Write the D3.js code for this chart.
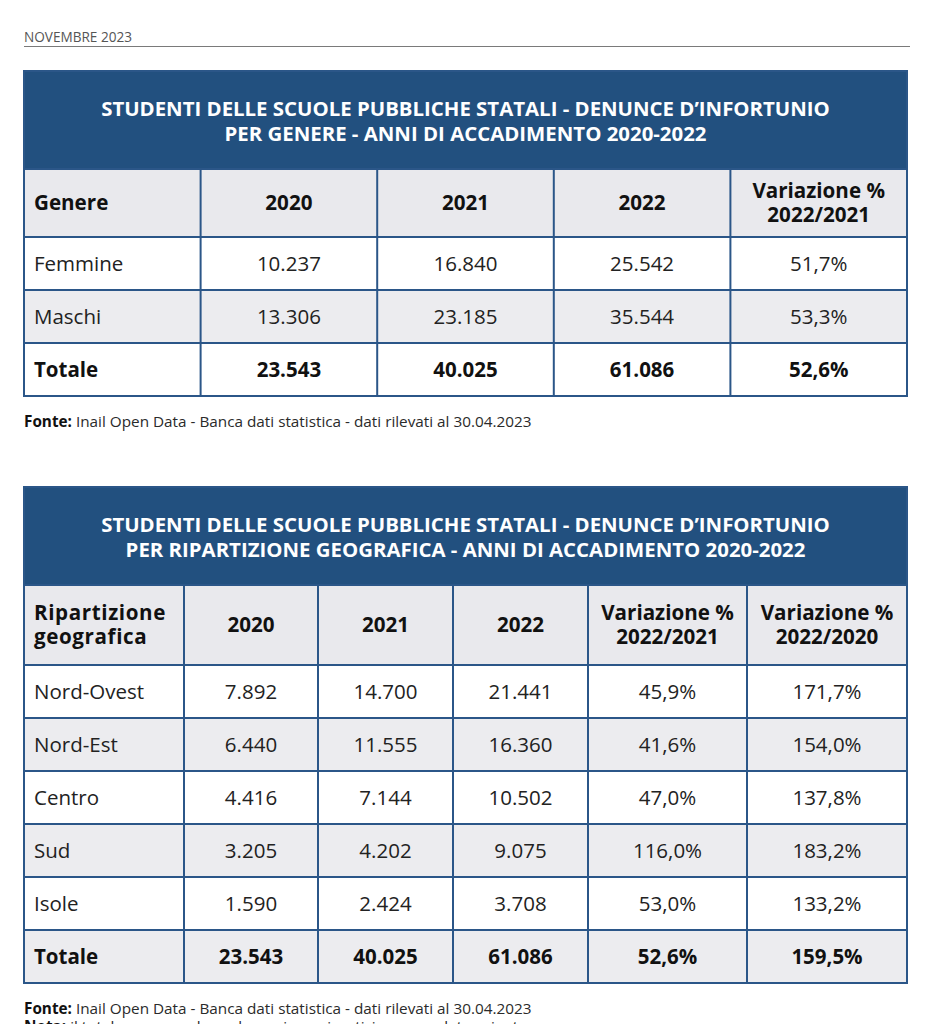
<!DOCTYPE html>
<html><head><meta charset="utf-8">
<script src="https://cdn.jsdelivr.net/npm/d3@7"></script>
<style>
html,body{margin:0;padding:0;background:#fff;}
svg{display:block;font-family:"Open Sans",sans-serif;}
</style></head>
<body><svg id="c" width="940" height="1024"></svg>
<script>
// ---------- DATA ----------
const dateLabel = "NOVEMBRE 2023";

const t1Title = ["STUDENTI DELLE SCUOLE PUBBLICHE STATALI - DENUNCE D\u2019INFORTUNIO",
                 "PER GENERE - ANNI DI ACCADIMENTO 2020-2022"];
const t1Headers = [["Genere"], ["2020"], ["2021"], ["2022"], ["Variazione %", "2022/2021"]];
const t1Categories = ["Femmine", "Maschi", "Totale"];
const t1Values2020 = ["10.237", "13.306", "23.543"];
const t1Values2021 = ["16.840", "23.185", "40.025"];
const t1Values2022 = ["25.542", "35.544", "61.086"];
const t1Var2221 = ["51,7%", "53,3%", "52,6%"];

const t2Title = ["STUDENTI DELLE SCUOLE PUBBLICHE STATALI - DENUNCE D\u2019INFORTUNIO",
                 "PER RIPARTIZIONE GEOGRAFICA - ANNI DI ACCADIMENTO 2020-2022"];
const t2Headers = [["Ripartizione", "geografica"], ["2020"], ["2021"], ["2022"],
                   ["Variazione %", "2022/2021"], ["Variazione %", "2022/2020"]];
const t2Categories = ["Nord-Ovest", "Nord-Est", "Centro", "Sud", "Isole", "Totale"];
const t2Values2020 = ["7.892", "6.440", "4.416", "3.205", "1.590", "23.543"];
const t2Values2021 = ["14.700", "11.555", "7.144", "4.202", "2.424", "40.025"];
const t2Values2022 = ["21.441", "16.360", "10.502", "9.075", "3.708", "61.086"];
const t2Var2221 = ["45,9%", "41,6%", "47,0%", "116,0%", "53,0%", "52,6%"];
const t2Var2220 = ["171,7%", "154,0%", "137,8%", "183,2%", "133,2%", "159,5%"];

const sourceBold = "Fonte:";
const sourceText = " Inail Open Data - Banca dati statistica - dati rilevati al 30.04.2023";
const noteBold = "Nota:";
const noteText = " il totale comprende anche casi con ripartizione non determinata";

// ---------- STYLE ----------
const BAND = "#22507f", BORDER = "#2b5688", HEAD_BG = "#e9e9ed", ALT_BG = "#ececef";
const svg = d3.select("#c");

// header date + rule
svg.append("text").attr("x", 24).attr("y", 42).attr("font-size", 13.6)
  .attr("fill", "#555").text(dateLabel);
svg.append("line").attr("x1", 24).attr("x2", 910).attr("y1", 46.5).attr("y2", 46.5)
  .attr("stroke", "#7a7a7a").attr("stroke-width", 1);

function drawTable(cfg) {
  const g = svg.append("g");
  const L = 24, R = 907;
  const cum = [0];
  cfg.weights.forEach(w => cum.push(cum[cum.length - 1] + w));
  const x = d3.scaleLinear().domain([0, cum[cum.length - 1]]).range([L, R]);
  const edges = cum.map(c => x(c));

  const bandTop = cfg.top, bandBot = cfg.top + cfg.bandH;
  const headBot = bandBot + cfg.headH;
  const nRows = cfg.rows[0].length;
  const y = d3.scaleBand().domain(d3.range(nRows))
    .range([headBot, headBot + cfg.rowH * nRows]).padding(0);

  // band
  g.append("rect").attr("x", L).attr("y", bandTop).attr("width", R - L)
    .attr("height", cfg.bandH + 1).attr("fill", BAND);
  g.selectAll("text.title").data(cfg.title).join("text").attr("class", "title")
    .attr("x", (L + R) / 2).attr("y", (d, i) => bandTop + 45 + i * 25)
    .attr("text-anchor", "middle").attr("fill", "#fff").attr("font-weight", 700)
    .attr("font-size", cfg.titleSize).text(d => d);

  // header row
  g.append("rect").attr("x", L).attr("y", bandBot).attr("width", R - L)
    .attr("height", cfg.headH).attr("fill", HEAD_BG);
  // rows
  g.selectAll("rect.row").data(d3.range(nRows)).join("rect").attr("class", "row")
    .attr("x", L).attr("y", i => y(i)).attr("width", R - L).attr("height", y.bandwidth())
    .attr("fill", i => cfg.shade(i) ? ALT_BG : "#fff");

  // header texts
  cfg.headers.forEach((lines, ci) => {
    const first = ci === 0;
    const cx = first ? edges[0] + 10 : (edges[ci] + edges[ci + 1]) / 2;
    const cy = (bandBot + headBot) / 2;
    const lh = 24;
    lines.forEach((t, li) => {
      g.append("text").attr("x", cx)
        .attr("y", cy + (li - (lines.length - 1) / 2) * lh + 7)
        .attr("text-anchor", first ? "start" : "middle")
        .attr("font-weight", 700).attr("font-size", cfg.headSize).attr("fill", "#111")
        .attr("letter-spacing", first && lines.length > 1 ? 0.6 : 0)
        .text(t);
    });
  });

  // body texts
  cfg.rows.forEach((col, ci) => {
    const first = ci === 0;
    g.selectAll("text.c" + ci).data(col).join("text").attr("class", "c" + ci)
      .attr("x", first ? edges[0] + 10 : (edges[ci] + edges[ci + 1]) / 2)
      .attr("y", (d, i) => y(i) + y.bandwidth() / 2 + 7.5)
      .attr("text-anchor", first ? "start" : "middle")
      .attr("font-size", cfg.fontSize)
      .attr("font-weight", (d, i) => i === nRows - 1 ? 700 : 400)
      .attr("fill", (d, i) => i === nRows - 1 ? "#111" : "#222")
      .text(d => d);
  });

  // grid lines
  const bottom = headBot + cfg.rowH * nRows;
  const hs = [bandBot, headBot].concat(d3.range(1, nRows).map(i => y(i)));
  g.selectAll("line.h").data(hs).join("line").attr("class", "h")
    .attr("x1", L).attr("x2", R).attr("y1", d => d).attr("y2", d => d)
    .attr("stroke", BORDER).attr("stroke-width", 2);
  g.selectAll("line.v").data(edges.slice(1, -1)).join("line").attr("class", "v")
    .attr("x1", d => d).attr("x2", d => d).attr("y1", bandBot).attr("y2", bottom)
    .attr("stroke", BORDER).attr("stroke-width", 2);
  g.append("rect").attr("x", L).attr("y", bandTop).attr("width", R - L)
    .attr("height", bottom - bandTop).attr("fill", "none")
    .attr("stroke", BORDER).attr("stroke-width", 2);

  // source
  const s = g.append("text").attr("x", 24).attr("y", bottom + cfg.srcOffset)
    .attr("font-size", 15.3).attr("fill", "#2a2a2a");
  s.append("tspan").attr("font-weight", 700).attr("fill", "#111").text(sourceBold);
  s.append("tspan").text(sourceText);
  if (cfg.note) {
    const n = g.append("text").attr("x", 24).attr("y", bottom + cfg.srcOffset + 18)
      .attr("font-size", 15.3).attr("fill", "#2a2a2a");
    n.append("tspan").attr("font-weight", 700).attr("fill", "#111").text(noteBold);
    n.append("tspan").text(noteText);
  }
}

drawTable({
  top: 71, bandH: 98, headH: 68, rowH: 53,
  weights: [1, 1, 1, 1, 1],
  title: t1Title, titleSize: 20.4, fontSize: 20.5, headSize: 20.6,
  headers: t1Headers,
  rows: [t1Categories, t1Values2020, t1Values2021, t1Values2022, t1Var2221],
  shade: i => i % 2 === 1, srcOffset: 31
});

drawTable({
  top: 487, bandH: 98, headH: 80, rowH: 53,
  weights: [160, 134, 135, 135, 159, 160],
  title: t2Title, titleSize: 20.4, fontSize: 20.5, headSize: 20.6,
  headers: t2Headers,
  rows: [t2Categories, t2Values2020, t2Values2021, t2Values2022, t2Var2221, t2Var2220],
  shade: i => i % 2 === 1, srcOffset: 31, note: true
});
</script></body></html>
